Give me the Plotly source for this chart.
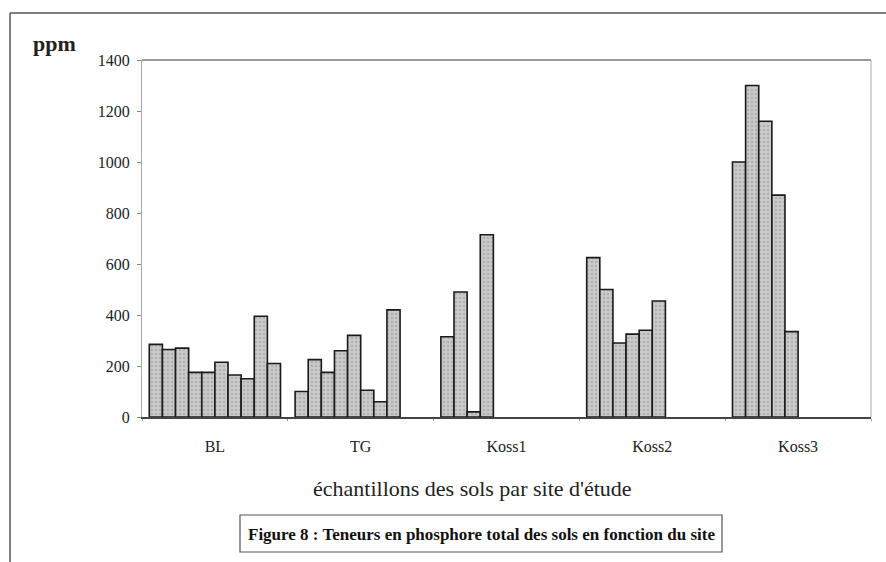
import plotly.graph_objects as go

sites = ["BL", "TG", "Koss1", "Koss2", "Koss3"]
# sample values (ppm) per sample index, None where a site has fewer samples
BL = [285, 265, 270, 175, 175, 215, 165, 150, 395, 210]
TG = [100, 225, 175, 260, 320, 105, 60, 420, None, None]
Koss1 = [315, 490, 20, 715, None, None, None, None, None, None]
Koss2 = [625, 500, 290, 325, 340, 455, None, None, None, None]
Koss3 = [1000, 1300, 1160, 870, 335, None, None, None, None, None]
y_ticks = [0, 200, 400, 600, 800, 1000, 1200, 1400]

data = [BL, TG, Koss1, Koss2, Koss3]

fig = go.Figure()
for i in range(10):
    fig.add_trace(go.Bar(
        x=sites,
        y=[row[i] for row in data],
        marker=dict(color="#c0c0c0", line=dict(color="#1a1a1a", width=1.6),
                    pattern=dict(shape=".", fgcolor="#959595", bgcolor="#cacaca", size=4, solidity=0.3)),
        showlegend=False,
    ))

L, R, T, B = 142, 15, 60, 145
W, H = 886, 562
pw = W - L - R
ph = H - T - B

def px(x):
    return (x - L) / pw

def py(y):
    return (H - B - y) / ph

serif = "Liberation Serif, Times New Roman, serif"

fig.update_layout(
    width=W, height=H,
    margin=dict(l=L, r=R, t=T, b=B),
    paper_bgcolor="white", plot_bgcolor="white",
    barmode="group", bargap=0.1, bargroupgap=0,
    font=dict(family=serif, color="#1a1a1a", size=15),
    xaxis=dict(showgrid=False, ticks="outside", tickson="boundaries", ticklen=2, tickcolor="#999",
               showline=True, linecolor="#444", linewidth=1.5,
               tickfont=dict(size=16, family=serif, color="#222"), ticklabelstandoff=14),
    yaxis=dict(range=[0, 1400], tickvals=y_ticks, showgrid=False, ticks="outside",
               ticklen=4, tickcolor="#888", showline=True, linecolor="#aaa", linewidth=1,
               tickfont=dict(size=16, family=serif, color="#222"), zeroline=False,
               ticklabelstandoff=4),
    shapes=[
        # plot area top and right border
        dict(type="line", xref="paper", yref="paper", x0=0, x1=1, y0=1, y1=1,
             line=dict(color="#777", width=1.5)),
        dict(type="line", xref="paper", yref="paper", x0=1, x1=1, y0=0, y1=1,
             line=dict(color="#aaa", width=1)),
        # outer frame
        dict(type="line", xref="paper", yref="paper", x0=px(10), x1=px(886), y0=py(13), y1=py(13),
             line=dict(color="#555", width=1.5)),
        dict(type="line", xref="paper", yref="paper", x0=px(10), x1=px(10), y0=py(13), y1=py(562),
             line=dict(color="#555", width=1.5)),
        # caption box
        dict(type="rect", xref="paper", yref="paper", x0=px(240), x1=px(722), y0=py(515), y1=py(552),
             line=dict(color="#555", width=1.2)),
    ],
    annotations=[
        dict(text="<b>ppm</b>", xref="paper", yref="paper", x=px(31), y=py(44),
             xanchor="left", yanchor="middle", showarrow=False,
             font=dict(size=22, family=serif, color="#222")),
        dict(text="échantillons des sols par site d'étude", xref="paper", yref="paper",
             x=px(472), y=py(488), xanchor="center", yanchor="middle", showarrow=False,
             font=dict(size=22, family=serif, color="#222")),
        dict(text="<b>Figure 8 : Teneurs en phosphore total des sols en fonction du site</b>",
             xref="paper", yref="paper", x=px(481), y=py(534), xanchor="center", yanchor="middle",
             showarrow=False, font=dict(size=17, family=serif, color="#111")),
    ],
)

fig.write_html("out.html")
